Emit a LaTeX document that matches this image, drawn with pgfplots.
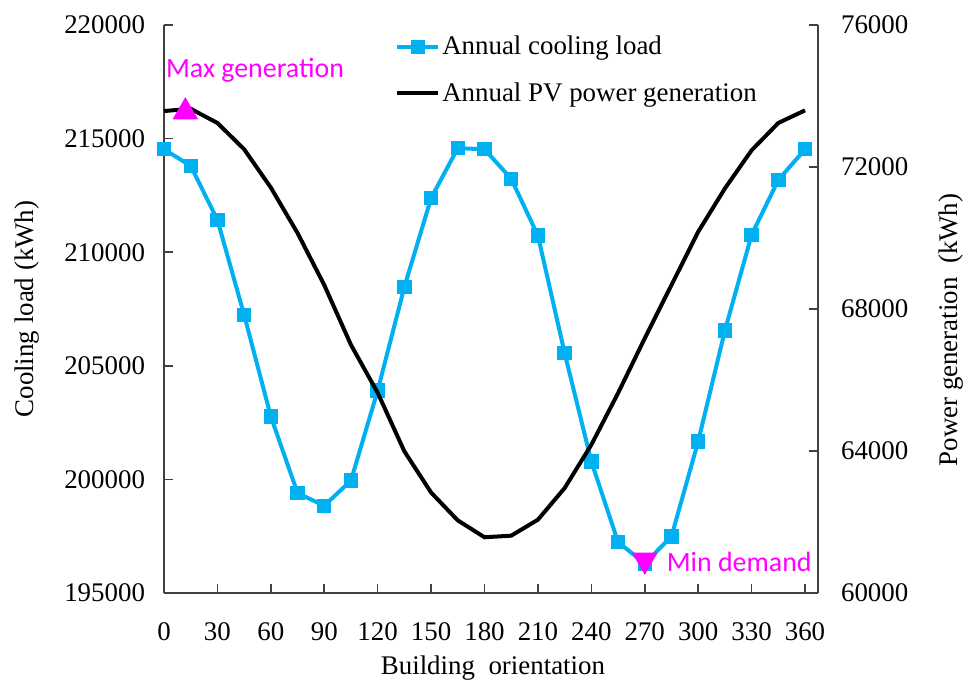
\documentclass[border=0pt]{standalone}
\usepackage{fontspec}
\setmainfont{Liberation Serif}
\newfontfamily\annfont{Carlito}
\usepackage{pgfplots}
\pgfplotsset{compat=1.18}

\definecolor{coolblue}{HTML}{00B0F0}
\definecolor{axisgray}{HTML}{404040}
\definecolor{mag}{HTML}{FF00FF}

\newcommand{\txt}{\fontsize{13.5}{16}\selectfont}

\pgfplotsset{
  common/.style={
    scale only axis,
    width=327bp, height=284bp,
    at={(0,0)}, anchor=south west,
    xmin=0, xmax=367.3,
    tick align=inside,
    major tick length=4.7bp,
    axis line style={axisgray, line width=1bp},
    every tick/.style={axisgray, line width=0.8bp},
    tick label style={font=\txt},
    label style={font=\txt},
    /pgf/number format/assume math mode=true,
    /pgf/number format/set thousands separator={},
    /pgf/number format/fixed,
    scaled ticks=false,
    clip=false,
  }
}

\begin{document}
\begin{tikzpicture}
\path[use as bounding box] (-82bp,-48bp) rectangle (402.5bp,296.5bp);

% Left axis: annual cooling load
\begin{axis}[
  common,
  axis x line*=bottom,
  axis y line*=left,
  ymin=195000, ymax=220000,
  ytick={195000,200000,...,220000},
  xtick={0,30,...,360},
  xlabel={Building\ \ orientation},
  ylabel={Cooling load (kWh)},
  xlabel style={at={(axis description cs:0.503,-0.132)}, anchor=center},
  ylabel style={at={(axis description cs:-0.2095,0.5)}, anchor=center, rotate=0},
  yticklabel style={xshift=-6bp},
  xticklabel style={yshift=-11.5bp},
]
\addplot[coolblue, line width=2bp, mark=square*, mark size=2.6bp,
  mark options={solid, fill=coolblue, draw=coolblue}] coordinates {
  (0,214530) (15,213800) (30,211420) (45,207240) (60,202770)
  (75,199400) (90,198840) (105,199950) (120,203910) (135,208470)
  (150,212380) (165,214580) (180,214530) (195,213230) (210,210730)
  (225,205560) (240,200790) (255,197240) (270,196300) (285,197490)
  (300,201670) (315,206550) (330,210760) (345,213180) (360,214530)
};
% lowest cooling demand
\addplot[only marks, mark=triangle*, mark size=7bp,
  mark options={rotate=180, fill=mag, draw=mag}] coordinates {(270,196450)};
\node[anchor=west, text=mag, font=\annfont\fontsize{14}{16}\selectfont,
  inner sep=0pt] at (axis cs:282.2,196390) {Min demand};
\node[anchor=center, text=mag, font=\annfont\fontsize{14}{16}\selectfont,
  inner sep=0pt] at (axis cs:51.1,218020) {Max generation};
\end{axis}

% Right axis: annual PV power generation
\begin{axis}[
  common,
  hide x axis,
  axis y line*=right,
  ymin=60000, ymax=76000,
  ytick={60000,64000,...,76000},
  ylabel={Power generation\ \ (kWh)},
  ylabel style={at={(axis description cs:1.203,0.463)}, anchor=center, rotate=0},
  yticklabel style={xshift=8bp},
  legend style={draw=none, fill=none, font=\txt,
    at={(axis description cs:0.353,0.985)}, anchor=north west,
    row sep=10.5bp, inner sep=0pt,
    nodes={inner sep=1bp}},
  legend cell align=left,
  legend image code/.code={%
    \draw[mark repeat=2, mark phase=2] plot coordinates {(0bp,0bp) (10.25bp,0bp) (20.5bp,0bp)};},
]
\addlegendimage{coolblue, line width=2bp, mark=square*, mark size=2.6bp,
  mark options={solid, fill=coolblue, draw=coolblue}}
\addlegendentry{Annual cooling load}
\addplot[black, line width=2bp] coordinates {
  (0,73576) (15,73640) (30,73240) (45,72500) (60,71420)
  (75,70140) (90,68675) (105,66990) (120,65640) (135,63990)
  (150,62830) (165,62045) (180,61570) (195,61615) (210,62065)
  (225,62955) (240,64175) (255,65630) (270,67175) (285,68675)
  (300,70175) (315,71395) (330,72470) (345,73240) (360,73595)
};
\addlegendentry{Annual PV power generation}
% highest PV generation
\addplot[only marks, mark=triangle*, mark size=7bp, forget plot,
  mark options={fill=mag, draw=mag}] coordinates {(12,73550)};
\end{axis}
\end{tikzpicture}
\end{document}
